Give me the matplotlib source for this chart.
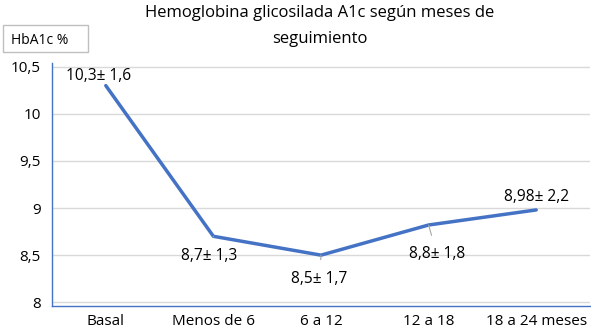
import matplotlib.pyplot as plt
from matplotlib.patches import Rectangle

plt.rcParams['font.family'] = ['Open Sans', 'DejaVu Sans']

# Data
categories = ['Basal', 'Menos de 6', '6 a 12', '12 a 18', '18 a 24 meses']
hba1c = [10.3, 8.7, 8.5, 8.82, 8.98]
point_labels = ['10,3\u00b1 1,6', '8,7\u00b1 1,3', '8,5\u00b1 1,7', '8,8\u00b1 1,8', '8,98\u00b1 2,2']
yticks = [8, 8.5, 9, 9.5, 10, 10.5]
ytick_labels = ['8', '8,5', '9', '9,5', '10', '10,5']

fig = plt.figure(figsize=(5.91, 3.32), dpi=100)
ax = fig.add_axes([52 / 591, 26 / 332, 538 / 591, 243 / 332])

x = range(len(categories))
ax.plot(x, hba1c, color='#4472C4', linewidth=2.5, solid_capstyle='round')

ax.set_xlim(-0.5, len(categories) - 0.5)
ax.set_ylim(7.96, 10.54)
ax.set_xticks(list(x))
ax.set_xticklabels(categories, fontsize=11)
ax.set_yticks(yticks)
ax.set_yticklabels(ytick_labels, fontsize=11)
ax.tick_params(length=0, pad=8)
ax.tick_params(axis='x', pad=6)
ax.grid(axis='y', color='#d9d9d9', linewidth=1)
ax.set_axisbelow(True)

for s in ['top', 'right']:
    ax.spines[s].set_visible(False)
for s in ['left', 'bottom']:
    ax.spines[s].set_color('#4472C4')
    ax.spines[s].set_linewidth(1)

# data labels: (dx, dy) offsets in points, leader line or not
offsets = [(-5, 7), (-3, -14), (-1, -17), (6, -21), (0, 9)]
leaders = [False, True, True, True, False]
for i, (val, lab) in enumerate(zip(hba1c, point_labels)):
    dx, dy = offsets[i]
    if leaders[i]:
        ax.annotate(lab, xy=(i, val), xytext=(dx, dy), textcoords='offset points',
                    ha='center', va='center', fontsize=11.2,
                    arrowprops=dict(arrowstyle='-', color='#a6a6a6', lw=0.8,
                                    shrinkA=6, shrinkB=0))
    else:
        ax.annotate(lab, xy=(i, val), xytext=(dx, dy), textcoords='offset points',
                    ha='center', va='center', fontsize=11.2)

fig.text(320 / 591, 1 - 13 / 332, 'Hemoglobina glicosilada A1c según meses de',
         ha='center', va='center', fontsize=12)
fig.text(320 / 591, 1 - 39 / 332, 'seguimiento', ha='center', va='center', fontsize=12)

# y-axis title box
fig.patches.append(Rectangle((3 / 591, 1 - 52 / 332), 85 / 591, 27 / 332,
                             transform=fig.transFigure, fill=False,
                             edgecolor='#bfbfbf', linewidth=1))
fig.text(11 / 591, 1 - 40 / 332, 'HbA1c %', ha='left', va='center', fontsize=10)

fig.savefig('out.png', dpi=100)
